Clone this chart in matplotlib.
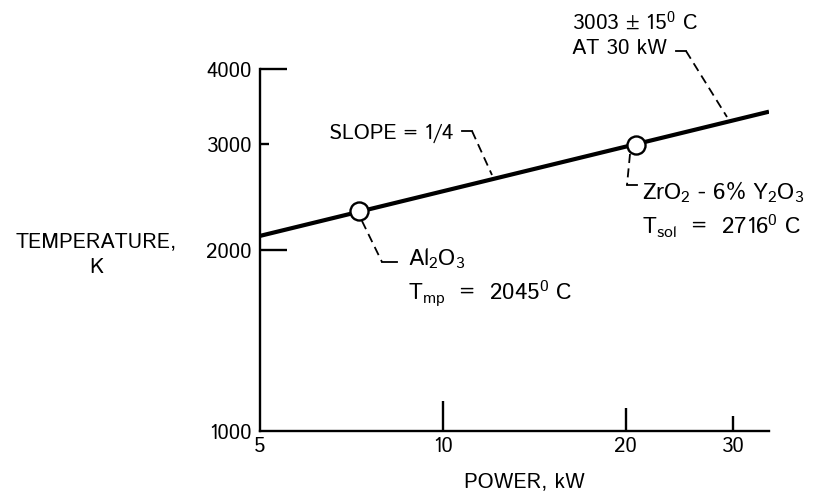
import matplotlib
matplotlib.use("Agg")
import matplotlib.pyplot as plt

FONT = 'Istok Web'
plt.rcParams['font.family'] = [FONT, 'DejaVu Sans']
plt.rcParams['mathtext.fontset'] = 'custom'
plt.rcParams['mathtext.rm'] = FONT
plt.rcParams['mathtext.it'] = FONT
plt.rcParams['mathtext.bf'] = FONT
plt.rcParams['mathtext.default'] = 'regular'

# ---- data ----
line_power = [5.0, 34.4]          # kW
line_temp = [2111.0, 3397.0]      # K
point_names = ["Al2O3", "ZrO2 - 6% Y2O3"]
point_power = [7.27, 20.8]        # kW
point_temp = [2318.0, 2989.0]     # K
x_ticks = [5, 10, 20, 30]
x_ticklabels = ["5", "10", "20", "30"]
y_ticks = [1000, 2000, 3000, 4000]
y_ticklabels = ["1000", "2000", "3000", "4000"]

W, H = 824, 498
L_, R_, B_, T_ = 260, 769, 431, 69
fig = plt.figure(figsize=(W / 100, H / 100), dpi=100)
ax = fig.add_axes([L_ / W, 1 - B_ / H, (R_ - L_) / W, (B_ - T_) / H])
ax.set_xscale('log')
ax.set_yscale('log')
ax.set_xlim(5, 34.4)
ax.set_ylim(1000, 4000)

ax.plot(line_power, line_temp, color='black', lw=3.0, solid_capstyle='butt', zorder=3)
ax.plot(point_power, point_temp, 'o', ms=13, mfc='white', mec='black', mew=1.7, zorder=4)

for s in ['top', 'right']:
    ax.spines[s].set_visible(False)
for s in ['left', 'bottom']:
    ax.spines[s].set_linewidth(1.7)

TICK_FS = 15
ax.minorticks_off()
ax.set_xticks(x_ticks)
ax.set_xticklabels(x_ticklabels, fontsize=TICK_FS)
ax.set_yticks(y_ticks)
ax.set_yticklabels(y_ticklabels, fontsize=TICK_FS)
ax.tick_params(axis='both', which='minor', length=0)
ax.tick_params(axis='both', which='major', direction='in', width=1.7, color='black')
ax.tick_params(axis='x', pad=4)
ax.tick_params(axis='y', pad=6)

x_len = [0, 21.6, 16.5, 11]
y_len = [0, 19.5, 6.5, 19.5]
for t, L in zip(ax.xaxis.get_major_ticks(), x_len):
    t.tick1line.set_markersize(L)
for t, L in zip(ax.yaxis.get_major_ticks(), y_len):
    t.tick1line.set_markersize(L)

inv = ax.transData.inverted()


def P(px, py):
    return tuple(inv.transform((px, H - py)))


def leader(pts):
    xs, ys = zip(*[P(*p) for p in pts])
    ax.plot(xs, ys, color='black', lw=1.3, clip_on=False, zorder=2,
            linestyle=(0, (5, 3)))


def solid(pts):
    xs, ys = zip(*[P(*p) for p in pts])
    ax.plot(xs, ys, color='black', lw=1.3, clip_on=False, zorder=2)


FS = 15.4
FS_MAT = 16.5


def text(px, py, s, size=FS, ha='left', **kw):
    x, y = P(px, py)
    ax.text(x, y, s, fontsize=size, ha=ha, va='center', clip_on=False, **kw)


# top annotation
text(572, 22, r"3003 ± 15$^{0}$ C")
text(572, 49, "AT 30 kW")
solid([(676, 51), (686, 51)])
leader([(686, 51), (727, 117)])

# slope
text(329, 133, "SLOPE = 1/4")
solid([(462, 131), (472, 131)])
leader([(472, 131), (492, 175)])

# ZrO2
leader([(630, 154), (627, 185)])
solid([(627, 185), (637, 185)])
text(642, 192, r"ZrO$_2$ - 6% Y$_2$O$_3$", size=FS_MAT)
text(642, 226, r"T$_{sol}$  =  2716$^{0}$ C", size=FS_MAT)

# Al2O3
leader([(362, 221), (382, 262)])
solid([(382, 262), (397, 262)])
text(408, 259, r"Al$_2$O$_3$", size=FS_MAT)
text(408, 293, r"T$_{mp}$  =  2045$^{0}$ C", size=FS_MAT)

# axis titles
text(96, 255, "TEMPERATURE,\nK", ha='center', multialignment='center', linespacing=1.35)
text(524, 482, "POWER, kW", ha='center')

fig.savefig("out.png", dpi=100)
